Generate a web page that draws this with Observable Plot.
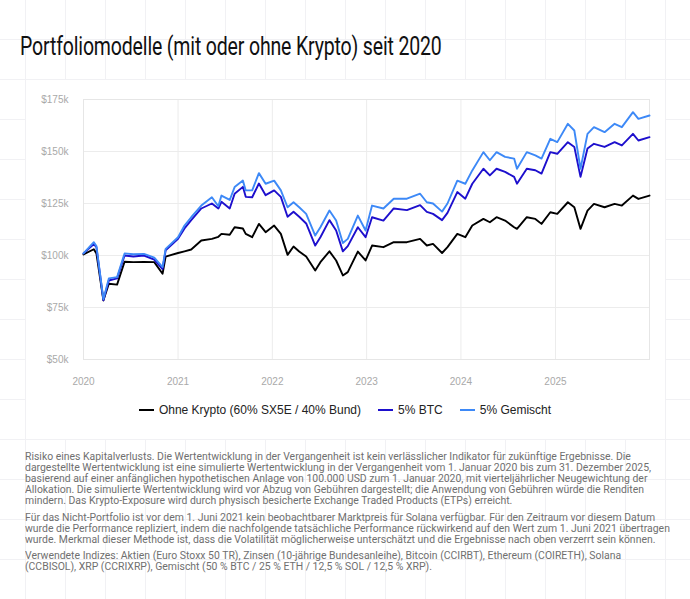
<!DOCTYPE html>
<html>
<head>
<meta charset="utf-8">
<script src="https://cdn.jsdelivr.net/npm/d3@7"></script>
<script src="https://cdn.jsdelivr.net/npm/@observablehq/plot@0.6"></script>
<style>
  html, body { margin: 0; padding: 0; }
  body {
    width: 690px; height: 599px; position: relative; overflow: hidden;
    background-color: #ffffff;
    background-image:
      linear-gradient(to right, #f1f1f4 1px, transparent 1px),
      linear-gradient(to bottom, #f1f1f4 1px, transparent 1px);
    background-size: 40px 40px;
    background-position: 25px 39px;
    font-family: Roboto, "Noto Sans", sans-serif;
  }
  #panel { position: absolute; left: 26px; top: 80px; width: 639px; height: 359px; background: #fff; }
  #title {
    position: absolute; left: 20px; top: 32px; font-size: 25px; font-weight: 400;
    color: #111; white-space: nowrap; transform-origin: 0 0; letter-spacing: -0.2px;
  }
  #chart { position: absolute; left: 0; top: 0; }
  #legend {
    position: absolute; left: 0; width: 690px; top: 403px; display: flex; justify-content: center;
    gap: 17px; font-size: 12px; color: #222; white-space: nowrap;
    font-family: "Liberation Sans", Arial, sans-serif;
  }
  #legend .item { display: flex; align-items: center; gap: 5px; }
  #legend .sw { width: 15px; height: 2.5px; display: inline-block; }
  #foot {
    position: absolute; left: 25px; top: 451px; font-size: 10px; line-height: 11px; color: #6f6f6f;
    transform-origin: 0 0; white-space: nowrap;
  }
  #foot p { margin: 0 0 5.5px 0; }
</style>
</head>
<body>
<div id="panel"></div>
<div id="title">Portfoliomodelle (mit oder ohne Krypto) seit 2020</div>
<div id="chart"></div>
<div id="legend"></div>
<div id="foot">
<p><span id="firstline">Risiko eines Kapitalverlusts. Die Wertentwicklung in der Vergangenheit ist kein verlässlicher Indikator für zukünftige Ergebnisse. Die</span><br>dargestellte Wertentwicklung ist eine simulierte Wertentwicklung in der Vergangenheit vom 1. Januar 2020 bis zum 31. Dezember 2025,<br>basierend auf einer anfänglichen hypothetischen Anlage von 100.000 USD zum 1. Januar 2020, mit vierteljährlicher Neugewichtung der<br>Allokation. Die simulierte Wertentwicklung wird vor Abzug von Gebühren dargestellt; die Anwendung von Gebühren würde die Renditen<br>mindern. Das Krypto-Exposure wird durch physisch besicherte Exchange Traded Products (ETPs) erreicht.</p>
<p>Für das Nicht-Portfolio ist vor dem 1. Juni 2021 kein beobachtbarer Marktpreis für Solana verfügbar. Für den Zeitraum vor diesem Datum<br>wurde die Performance repliziert, indem die nachfolgende tatsächliche Performance rückwirkend auf den Wert zum 1. Juni 2021 übertragen<br>wurde. Merkmal dieser Methode ist, dass die Volatilität möglicherweise unterschätzt und die Ergebnisse nach oben verzerrt sein können.</p>
<p>Verwendete Indizes: Aktien (Euro Stoxx 50 TR), Zinsen (10-jährige Bundesanleihe), Bitcoin (CCIRBT), Ethereum (COIRETH), Solana<br>(CCBISOL), XRP (CCRIXRP), Gemischt (50 % BTC / 25 % ETH / 12,5 % SOL / 12,5 % XRP).</p>
</div>
<script>
// ---- data (values in thousands of USD) ----
const dates = [
  "2020-01-01","2020-02-10","2020-02-20","2020-03-18","2020-04-08","2020-05-10","2020-06-08","2020-07-12",
  "2020-08-22","2020-10-01","2020-11-02","2020-11-14","2021-01-01","2021-01-26","2021-02-21","2021-04-01",
  "2021-05-12","2021-06-06","2021-06-18","2021-07-20","2021-08-08","2021-09-09","2021-09-20","2021-10-15",
  "2021-11-10","2021-12-06","2022-01-08","2022-02-03","2022-03-01","2022-03-24","2022-04-15","2022-05-12",
  "2022-06-16","2022-07-06","2022-08-10","2022-09-05","2022-10-01","2022-10-20","2022-11-28","2022-12-28",
  "2023-01-22","2023-03-07","2023-04-16","2023-06-06","2023-07-27","2023-08-22","2023-09-15","2023-10-20",
  "2023-11-10","2023-12-18","2024-01-18","2024-02-14","2024-03-28","2024-04-22","2024-05-18","2024-06-20",
  "2024-07-25","2024-08-05","2024-09-12","2024-10-15","2024-11-08","2024-12-12","2025-01-08","2025-02-18",
  "2025-03-15","2025-04-08","2025-05-05","2025-05-30","2025-07-10","2025-08-18","2025-09-15","2025-10-28",
  "2025-11-18","2025-12-31"
];
const ohneKrypto = [
  100.5,103,101,78.4,86.4,86,97,96.8,
  96.9,96.8,91.2,99.5,101.2,102,102.9,107.2,
  108,109,110.4,110,113.6,113,110.4,108.8,
  115.2,111.2,114.4,110.4,100.3,104.3,101.9,99.5,
  92.8,96.8,102,97.6,90.4,92,101.9,97.6,
  104.8,104,106.4,106.4,108,104.8,105.6,101.2,
  104,110.4,108.8,114.4,117.6,116,118.4,116.8,
  113.6,112.8,118.4,117.6,115.2,120.8,120,125.6,
  123.2,112.8,121.6,124.8,123.2,124.8,124,128.8,
  127.2,128.8
];
const btc5 = [
  101,105.5,104,78.5,88,89,100,99.5,
  100,98,93.5,102.5,108,113,117,122.6,
  125,122.6,125.8,122.6,129.7,133,128.2,128,
  134.6,129,131.3,128.2,118.6,121,118.6,115.4,
  104.8,108.8,117,112,102,104.5,113.6,108.8,
  118.4,116.8,122.6,121.8,124.2,121,120,117,
  120.5,130.5,127.3,134.5,141.7,138.5,141.7,140.2,
  137.8,134.5,141.7,141,139.4,149.7,148.9,154.5,
  152.2,137.8,151.4,153.7,152.2,154.5,152.9,158.5,
  155.3,156.9
];
const gemischt5 = [
  101,106.4,104.5,79,89,89.6,101,100.6,
  100.8,99,94.4,103.2,108.8,114.4,118.4,124,
  128,123.7,128.8,126.7,132.9,136,131.3,131.3,
  139.6,134.5,136,131.3,123.2,125.6,123.2,120,
  109.6,113.6,121.6,116.8,106,108,119.2,112,
  124,122.6,127.3,127.3,129.7,125.6,125,121.1,
  125,136,134.5,140.9,149.7,145.8,149.7,147.4,
  146.6,141.7,149.7,148.1,146.6,156.1,154.5,163.3,
  160.1,141.7,158.5,161.7,159.3,163.3,161.7,168.9,
  165.7,167.3
];
const seriesNames = ["Ohne Krypto (60% SX5E / 40% Bund)", "5% BTC", "5% Gemischt"];
const seriesColors = ["#000000", "#1d0fcd", "#3d89f7"];
const yTicks = [50, 75, 100, 125, 150, 175];
const xTickYears = [2020, 2021, 2022, 2023, 2024, 2025];

const seriesValues = [ohneKrypto, btc5, gemischt5];
const rows = [];
seriesValues.forEach((vals, i) => {
  vals.forEach((v, j) => rows.push({ date: new Date(dates[j] + "T00:00:00Z"), value: v, series: seriesNames[i] }));
});
const xTicks = xTickYears.map(y => new Date(Date.UTC(y, 0, 1)));

const chart = Plot.plot({
  width: 690,
  height: 400,
  marginLeft: 83,
  marginRight: 41,
  marginTop: 99,
  marginBottom: 41,
  style: { background: "transparent", fontFamily: "'Liberation Sans', Arial, sans-serif", fontSize: "10px", color: "#a9a9a9" },
  x: { type: "utc", domain: [new Date(Date.UTC(2020, 0, 1)), new Date(Date.UTC(2025, 11, 31))], label: null },
  y: { domain: [50, 175], label: null },
  color: { domain: seriesNames, range: seriesColors },
  marks: [
    Plot.gridX(xTicks, { stroke: "#ececec", strokeOpacity: 1 }),
    Plot.gridY(yTicks, { stroke: "#ececec", strokeOpacity: 1 }),
    Plot.frame({ stroke: "#e6e6e6" }),
    Plot.axisX(xTicks, { tickSize: 0, tickPadding: 18, tickFormat: d3.utcFormat("%Y"), fill: "#a9a9a9" }),
    Plot.axisY(yTicks, { tickSize: 0, tickPadding: 15, tickFormat: d => `$${d}k`, fill: "#a9a9a9" }),
    Plot.line(rows, { x: "date", y: "value", z: "series", stroke: "series", strokeWidth: 1.9, curve: "linear" })
  ]
});
document.getElementById("chart").appendChild(chart);

const legend = document.getElementById("legend");
seriesNames.forEach((name, i) => {
  const item = document.createElement("div");
  item.className = "item";
  const sw = document.createElement("span");
  sw.className = "sw";
  sw.style.background = seriesColors[i];
  const label = document.createElement("span");
  label.textContent = name;
  item.appendChild(sw);
  item.appendChild(label);
  legend.appendChild(item);
});

function fit() {
  const t = document.getElementById("title");
  const w = t.offsetWidth;
  t.style.transform = `scaleX(${422 / w})`;
  const f = document.getElementById("firstline");
  const fw = f.offsetWidth;
  document.getElementById("foot").style.transform = `scaleX(${606 / fw})`;
}
fit();
if (document.fonts && document.fonts.ready) document.fonts.ready.then(fit);
</script>
</body>
</html>
